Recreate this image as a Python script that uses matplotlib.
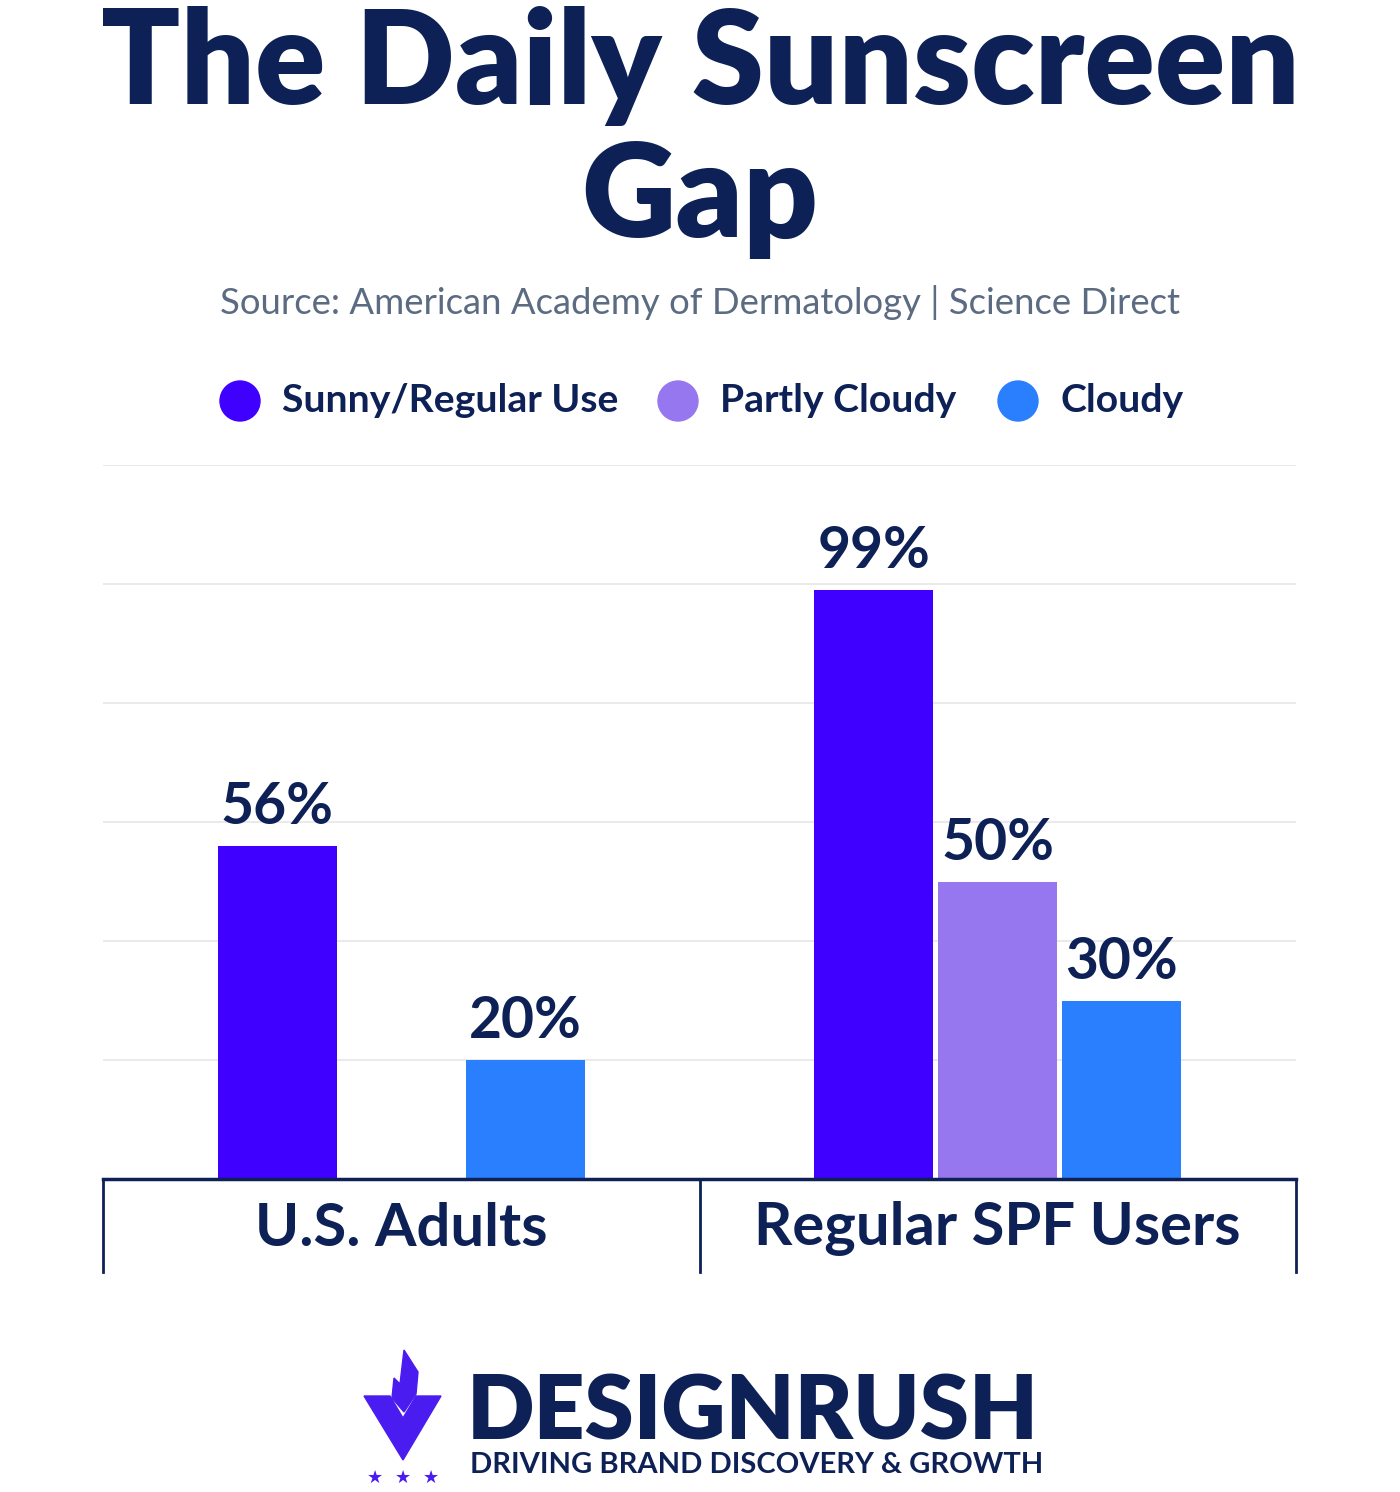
"""The Daily Sunscreen Gap - grouped bar chart."""

import matplotlib

matplotlib.use("Agg")
import matplotlib.pyplot as plt  # noqa: E402
import numpy as np  # noqa: E402
from matplotlib.patches import Ellipse, Polygon  # noqa: E402

plt.rcParams["font.family"] = ["Lato", "DejaVu Sans"]

NAVY = "#0d2157"
categories = ["U.S. Adults", "Regular SPF Users"]
series = ["Sunny/Regular Use", "Partly Cloudy", "Cloudy"]
colors = ["#4000ff", "#9777ef", "#2a7fff"]
values = {
    "Sunny/Regular Use": [56, 99],
    "Partly Cloudy": [None, 50],
    "Cloudy": [20, 30],
}
yticks = [0, 20, 40, 60, 80, 100, 120]

W, H = 1400, 1492
fig = plt.figure(figsize=(W / 100, H / 100), dpi=100)


def fy(py):
    return 1 - py / H


def fig_poly(pts, color):
    fig.patches.append(Polygon([(px / W, fy(py)) for px, py in pts],
                               transform=fig.transFigure, color=color))


fig.text(0.5, fy(66), "The Daily Sunscreen", ha="center", va="center",
         fontsize=94, weight="heavy", color=NAVY)
fig.text(0.5, fy(199), "Gap", ha="center", va="center",
         fontsize=94, weight="heavy", color=NAVY)
fig.text(0.5, fy(302), "Source: American Academy of Dermatology | Science Direct",
         ha="center", va="center", fontsize=26.3, color="#5b6b82")

# legend
leg_x = [240, 678, 1018]
for x, name, c in zip(leg_x, series, colors):
    fig.patches.append(Ellipse((x / W, fy(401)), 40 / W, 40 / H,
                               transform=fig.transFigure, color=c))
    fig.text((x + 42) / W, fy(401), name, ha="left", va="center",
             fontsize=28.2, weight="bold", color=NAVY)

# chart area
left, right, top, base = 103, 1296, 465, 1179
ax = fig.add_axes([left / W, fy(base), (right - left) / W, (base - top) / H])
ax.set_xlim(-0.5, 1.5)
ax.set_ylim(0, 120)
ax.set_yticks(yticks)
ax.grid(axis="y", color="#e6e6e6", lw=1.2)
ax.set_axisbelow(True)
for s in ax.spines.values():
    s.set_visible(False)
ax.tick_params(left=False, labelleft=False, bottom=False, labelbottom=False)

x = np.arange(len(categories))
bw, step = 0.2, 0.208
for i, (name, c) in enumerate(zip(series, colors)):
    for j, v in enumerate(values[name]):
        if v is None:
            continue
        xpos = x[j] + (i - 1) * step
        ax.bar(xpos, v, width=bw, color=c)
        ax.text(xpos, v + 2, f"{v}%", ha="center", va="bottom",
                fontsize=41, weight="bold", color=NAVY)

# category axis with group separators
ax.axhline(0, color=NAVY, lw=2.5, clip_on=False)
for b in [-0.5, 0.5, 1.5]:
    ax.plot([b, b], [0, -15.6], color=NAVY, lw=2, clip_on=False)
for j, cat in enumerate(categories):
    ax.text(x[j], -8.4, cat, ha="center", va="center", fontsize=43,
            weight="bold", color=NAVY)

# logo
fig.text(467 / W, fy(1413), "DESIGNRUSH", ha="left", va="center",
         fontsize=64, weight="heavy", color=NAVY)
fig.text(470 / W, fy(1465), "DRIVING BRAND DISCOVERY & GROWTH", ha="left",
         va="center", fontsize=21, weight="bold", color=NAVY)
logo_c = "#4b1cf0"
fig_poly([(364, 1396), (390, 1396), (403, 1418), (416, 1396), (441, 1396),
          (403, 1460)], logo_c)
fig_poly([(404, 1350), (418, 1372), (416, 1394), (404, 1412), (392, 1398),
          (394, 1378), (400, 1384)], logo_c)
for sx in [375, 403, 431]:
    fig.text(sx / W, fy(1478), "★", ha="center", va="center", fontsize=13,
             color=logo_c, family="DejaVu Sans")

fig.savefig("out.png", dpi=100, facecolor="white")
